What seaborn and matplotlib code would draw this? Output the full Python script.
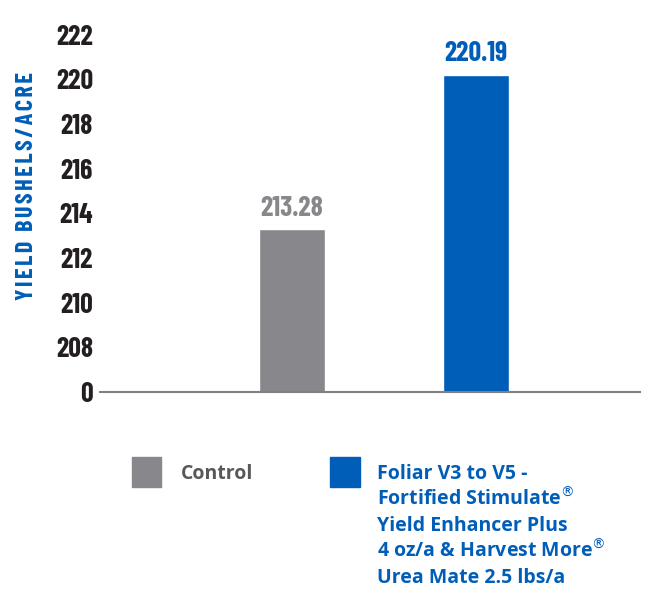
import matplotlib
matplotlib.use("Agg")
import matplotlib.pyplot as plt
import matplotlib.patches as mpatches
import seaborn as sns

# data
treatments = ["Control", "Foliar V3 to V5"]
yields = [213.28, 220.19]
value_labels = ["213.28", "220.19"]
control_label = "Control"
treatment_lines = [
    "Foliar V3 to V5 -",
    r"Fortified Stimulate$^{®}$",
    "Yield Enhancer Plus",
    r"4 oz/a & Harvest More$^{®}$",
    "Urea Mate 2.5 lbs/a",
]
tick_values = [206, 208, 210, 212, 214, 216, 218, 220, 222]
tick_labels = ["0", "208", "210", "212", "214", "216", "218", "220", "222"]
ylabel = "YIELD BUSHELS/ACRE"

GRAY = "#88878c"
BLUE = "#005eb8"
colors = [GRAY, BLUE]

sns.set_theme(style="white")
narrow = ["Barlow Condensed", "DejaVu Sans"]
body = ["Open Sans", "Lato", "DejaVu Sans"]

fig = plt.figure(figsize=(6.48, 5.89), dpi=100)
ax = fig.add_axes([100 / 648, 1 - 392 / 589, 540 / 648, (392 - 12.5) / 589])

sns.barplot(x=treatments, y=yields, hue=treatments, palette=colors,
            width=0.36, ax=ax, legend=False, saturation=1)

ax.set_ylim(206, 223)
ax.set_xlim(-1.043, 1.891)
ax.set_yticks(tick_values)
ax.set_yticklabels(tick_labels)
for t in ax.get_yticklabels():
    t.set_fontfamily(narrow)
    t.set_fontweight("bold")
    t.set_fontsize(20)
    t.set_color("#231f20")
ax.tick_params(axis="y", length=0, pad=5)
ax.set_xticks([])
ax.set_xlabel("")
ax.set_ylabel("")
for s in ["top", "right", "left"]:
    ax.spines[s].set_visible(False)
ax.spines["bottom"].set_color("#808083")
ax.spines["bottom"].set_linewidth(1.5)

# value labels above bars
for i, (v, lab) in enumerate(zip(yields, value_labels)):
    ax.text(i, v + 0.4, lab, ha="center", va="bottom", fontsize=20,
            fontweight="bold", family=narrow, color=colors[i])

# letter-spaced axis title
spaced = "\u200a".join(ylabel)
fig.text(27 / 648, 1 - 186.5 / 589, spaced,
         rotation=90, ha="center", va="center", fontsize=17.5,
         fontweight="bold", family=narrow, color=BLUE)

# legend built by hand to match the layout
fig.patches.append(mpatches.Rectangle((132 / 648, 1 - 487 / 589), 29 / 648, 30 / 589,
                                      transform=fig.transFigure, color=GRAY))
fig.patches.append(mpatches.Rectangle((330 / 648, 1 - 487 / 589), 30 / 648, 30 / 589,
                                      transform=fig.transFigure, color=BLUE))
fig.text(181 / 648, 1 - 479 / 589, control_label, ha="left", va="baseline",
         fontsize=14, fontweight="bold", family=body, color="#58585a")
for k, line in enumerate(treatment_lines):
    fig.text(377 / 648, 1 - (479 + 26 * k) / 589, line, ha="left", va="baseline",
             fontsize=14, fontweight="bold", family=body, color=BLUE)

fig.savefig("out.png", dpi=100)
